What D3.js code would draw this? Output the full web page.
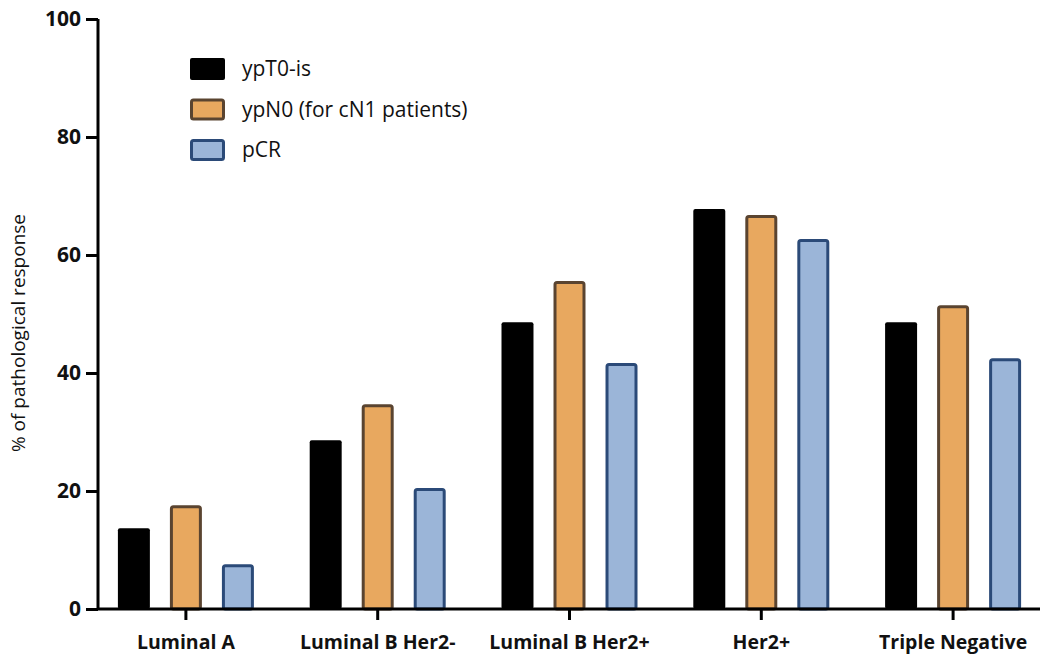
<!DOCTYPE html>
<html><head><meta charset="utf-8">
<script src="https://cdn.jsdelivr.net/npm/d3@7"></script>
<style>body{margin:0;background:#fff}svg{display:block}</style>
</head><body>
<svg id="c" width="1050" height="668"></svg>
<script>
const categories = ["Luminal A","Luminal B Her2-","Luminal B Her2+","Her2+","Triple Negative"];
const seriesNames = ["ypT0-is","ypN0 (for cN1 patients)","pCR"];
const ypT0is = [13.7, 28.6, 48.6, 67.8, 48.6];
const ypN0   = [17.6, 34.7, 55.6, 66.8, 51.5];
const pCR    = [7.6, 20.5, 41.7, 62.7, 42.5];
const yTicks = [0,20,40,60,80,100];

const fills = ["#000000","#e8a85f","#9bb5d8"];
const strokes = ["#000000","#5a4430","#2b4a78"];

const svg = d3.select("#c");
const font = "'Open Sans', Lato, sans-serif";
const x0 = d3.scaleBand().domain(categories).range([90,1049]).padding(0);
const x1 = d3.scaleBand().domain(seriesNames).range([-68,68]).paddingInner(0.385).paddingOuter(0);
const y = d3.scaleLinear().domain([0,100]).range([609,19]);
const data = [ypT0is, ypN0, pCR];

// bars
categories.forEach((c,i)=>{
  seriesNames.forEach((s,j)=>{
    const v = data[j][i];
    const cx = x0(c)+x0.bandwidth()/2;
    const sw = j===0?0:3;
    svg.append("rect")
      .attr("x", cx + x1(s) + sw/2)
      .attr("y", y(v) + sw/2)
      .attr("width", x1.bandwidth() - sw)
      .attr("height", y(0) - y(v) - sw/2)
      .attr("rx", 2)
      .attr("fill", fills[j])
      .attr("stroke", j===0?"none":strokes[j])
      .attr("stroke-width", sw);
  });
});

// y axis
const yAxis = svg.append("g").attr("transform","translate(98,0)")
  .call(d3.axisLeft(y).tickValues(yTicks).tickSize(12).tickPadding(5));
yAxis.select(".domain").attr("stroke","#000").attr("stroke-width",3).attr("d","M0,609V19");
yAxis.selectAll(".tick line").attr("stroke","#000").attr("stroke-width",3);
yAxis.selectAll(".tick text").attr("font-family",font).attr("font-weight","bold").attr("font-size",21).attr("fill","#111");

// x axis
const xAxis = svg.append("g").attr("transform","translate(0,609)")
  .call(d3.axisBottom(x0).tickSize(11).tickPadding(15));
xAxis.select(".domain").attr("stroke","#000").attr("stroke-width",3).attr("d","M97,0H1040");
xAxis.selectAll(".tick line").attr("stroke","#000").attr("stroke-width",3);
xAxis.selectAll(".tick text").attr("font-family",font).attr("font-weight","bold").attr("font-size",19.5).attr("fill","#111");

// y title
svg.append("text").attr("transform","translate(25,333) rotate(-90)")
  .attr("text-anchor","middle").attr("font-family",font).attr("font-size",19).attr("fill","#111")
  .text("% of pathological response");

// legend
const legend = svg.append("g");
seriesNames.forEach((s,j)=>{
  const ly = 69 + j*40.5;
  const sw = j===0?0:3;
  legend.append("rect").attr("x",190+sw/2).attr("y",ly-11+sw/2).attr("width",35-sw).attr("height",22-sw)
    .attr("rx",2).attr("fill",fills[j]).attr("stroke",j===0?"none":strokes[j]).attr("stroke-width",sw);
  legend.append("text").attr("x",242).attr("y",ly+7).attr("font-family",font).attr("font-size",21).attr("fill","#111").text(s);
});
</script>
</body></html>
